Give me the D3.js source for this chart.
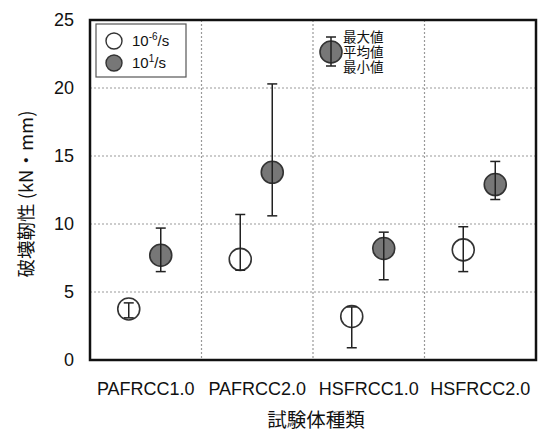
<!DOCTYPE html>
<html>
<head>
<meta charset="utf-8">
<script src="https://cdn.jsdelivr.net/npm/d3@7"></script>
<style>
  body { margin: 0; background: #fff; }
  text { font-family: "Liberation Sans", Arial, sans-serif; }
</style>
</head>
<body>
<svg id="chart"></svg>
<script>
// categories and series
const categories = ["PAFRCC1.0", "PAFRCC2.0", "HSFRCC1.0", "HSFRCC2.0"];
const seriesNames = ["slow", "fast"];
// mean / max / min per category
const slowMean = [3.75, 7.4, 3.2, 8.1];
const slowMax = [4.2, 10.7, 3.9, 9.8];
const slowMin = [3.1, 6.6, 0.9, 6.5];
const fastMean = [7.7, 13.8, 8.2, 12.9];
const fastMax = [9.7, 20.3, 9.4, 14.6];
const fastMin = [6.5, 10.6, 5.9, 11.8];
const yTicks = [0, 5, 10, 15, 20, 25];

const width = 540, height = 434;
const margin = { top: 20, right: 4, bottom: 74, left: 90 };

const svg = d3.select("#chart").attr("width", width).attr("height", height);
const innerW = width - margin.left - margin.right;
const innerH = height - margin.top - margin.bottom;

const chart = svg.append("g")
  .attr("transform", `translate(${margin.left},${margin.top})`);

const x = d3.scaleBand().domain(categories).range([0, innerW]);
const xOff = d3.scaleOrdinal().domain(seriesNames).range([-17, 15]);
const y = d3.scaleLinear().domain([0, 25]).range([innerH, 0]);

// gridlines
chart.append("g")
  .selectAll("line")
  .data(yTicks.slice(1, -1))
  .join("line")
  .attr("x1", 0).attr("x2", innerW)
  .attr("y1", d => y(d)).attr("y2", d => y(d))
  .attr("stroke", "#999").attr("stroke-width", 1.2)
  .attr("stroke-dasharray", "2,2");

chart.append("g")
  .selectAll("line")
  .data(categories.slice(1))
  .join("line")
  .attr("x1", d => x(d)).attr("x2", d => x(d))
  .attr("y1", 0).attr("y2", innerH)
  .attr("stroke", "#999").attr("stroke-width", 1.2)
  .attr("stroke-dasharray", "2,2");

// y tick labels
chart.append("g")
  .selectAll("text")
  .data(yTicks)
  .join("text")
  .attr("x", -16)
  .attr("y", d => y(d))
  .attr("dy", "0.36em")
  .attr("text-anchor", "end")
  .attr("font-size", 18)
  .attr("fill", "#111")
  .text(d => d);

// x tick labels
chart.append("g")
  .selectAll("text")
  .data(categories)
  .join("text")
  .attr("x", d => x(d) + x.bandwidth() / 2)
  .attr("y", innerH + 35)
  .attr("text-anchor", "middle")
  .attr("font-size", 18)
  .attr("fill", "#111")
  .text(d => d);

// axis titles
svg.append("text")
  .attr("x", margin.left + innerW / 2 + 3)
  .attr("y", 427)
  .attr("text-anchor", "middle")
  .attr("font-size", 19.5)
  .style("font-family", "'Noto Sans CJK JP', sans-serif")
  .attr("fill", "#111")
  .text("試験体種類");

svg.append("text")
  .attr("transform", `translate(33,${margin.top + 174}) rotate(-90)`)
  .attr("text-anchor", "middle")
  .attr("font-size", 18.5)
  .style("font-family", "'Noto Sans CJK JP', sans-serif")
  .attr("fill", "#111")
  .text("破壊靭性 (kN・mm)");

// build point data
const points = [];
categories.forEach((c, i) => {
  points.push({ cat: c, s: "slow", mean: slowMean[i], max: slowMax[i], min: slowMin[i] });
  points.push({ cat: c, s: "fast", mean: fastMean[i], max: fastMax[i], min: fastMin[i] });
});
const px = d => x(d.cat) + x.bandwidth() / 2 + xOff(d.s);

const marks = chart.append("g").selectAll("g").data(points).join("g");

marks.append("circle")
  .attr("cx", px)
  .attr("cy", d => y(d.mean))
  .attr("r", 11)
  .attr("fill", d => d.s === "fast" ? "#777" : "#fff")
  .attr("stroke", "#333")
  .attr("stroke-width", 1.6);

marks.append("line")
  .attr("x1", px).attr("x2", px)
  .attr("y1", d => y(d.max)).attr("y2", d => y(d.min))
  .attr("stroke", "#222").attr("stroke-width", 1.5);

["max", "min"].forEach(k => {
  marks.append("line")
    .attr("x1", d => px(d) - 5).attr("x2", d => px(d) + 5)
    .attr("y1", d => y(d[k])).attr("y2", d => y(d[k]))
    .attr("stroke", "#222").attr("stroke-width", 1.5);
});

// frame
chart.append("rect")
  .attr("width", innerW).attr("height", innerH)
  .attr("fill", "none").attr("stroke", "#111").attr("stroke-width", 2.5);

// legend 1
const leg = svg.append("g").attr("transform", "translate(96,24)");
leg.append("rect")
  .attr("width", 90).attr("height", 53)
  .attr("fill", "#fff").attr("stroke", "#555").attr("stroke-width", 1.2);
const legItems = [
  { s: "slow", base: "10", sup: "-6", tail: "/s" },
  { s: "fast", base: "10", sup: "1", tail: "/s" }
];
legItems.forEach((it, i) => {
  const gy = 17 + i * 22;
  leg.append("circle")
    .attr("cx", 18).attr("cy", gy).attr("r", 8)
    .attr("fill", it.s === "fast" ? "#777" : "#fff")
    .attr("stroke", "#333").attr("stroke-width", 1.4);
  const t = leg.append("text")
    .attr("x", 36).attr("y", gy + 5)
    .attr("font-size", 15).attr("fill", "#111");
  t.append("tspan").text(it.base);
  t.append("tspan").attr("dy", -6).attr("font-size", 10).text(it.sup);
  t.append("tspan").attr("dy", 6).text(it.tail);
});

// legend 2 (max / mean / min) as one text block
const leg2 = svg.append("g").attr("transform", "translate(331,52)");
leg2.append("circle").attr("r", 11).attr("fill", "#777")
  .attr("stroke", "#333").attr("stroke-width", 1.6);
leg2.append("line").attr("y1", -15).attr("y2", 14)
  .attr("stroke", "#222").attr("stroke-width", 1.5);
[-15, 14].forEach(v => {
  leg2.append("line").attr("x1", -5).attr("x2", 5).attr("y1", v).attr("y2", v)
    .attr("stroke", "#222").attr("stroke-width", 1.5);
});
const statText = leg2.append("text")
  .attr("y", -15)
  .attr("font-size", 13.5)
  .style("font-family", "'Liberation Sans', 'Noto Sans CJK JP', sans-serif")
  .attr("fill", "#111");
["最大値", "平均値", "最小値"].forEach((t, i) => {
  statText.append("tspan")
    .attr("x", 12)
    .attr("dy", i === 0 ? "0.36em" : 15)
    .text(t);
});
</script>
</body>
</html>
